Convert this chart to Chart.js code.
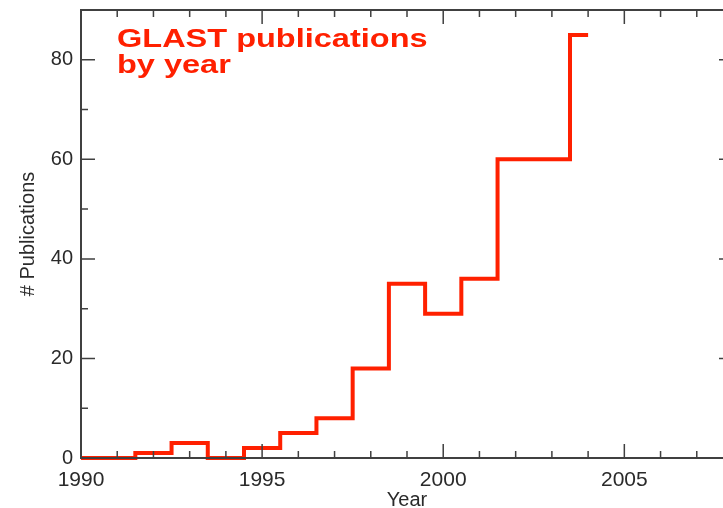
<!DOCTYPE html>
<html>
<head>
<meta charset="utf-8">
<script src="https://cdn.jsdelivr.net/npm/chart.js@4/dist/chart.umd.min.js"></script>
<style>
  html, body { margin: 0; padding: 0; background: #fff; overflow: hidden; }
  #wrap { width: 723px; height: 508px; overflow: hidden; }
</style>
</head>
<body>
<div id="wrap"><canvas id="pubChart" width="745" height="512"></canvas></div>
<script>
// GLAST publications per year (step histogram)
const years = [1990, 1991, 1992, 1993, 1994, 1995, 1996, 1997, 1998, 1999, 2000, 2001, 2002, 2003, 2004];
const pubs  = [0, 0, 1, 3, 0, 2, 5, 8, 18, 35, 29, 36, 60, 60, 85];
const xTickLabels = [1990, 1995, 2000, 2005];
const yTickLabels = [0, 20, 40, 60, 80];

const axisColor = "#404040";
const textColor = "#2a2a2a";
const lineRed = "#ff2000";

// inward tick marks + box on all four sides
const boxTicks = {
  id: "boxTicks",
  afterDatasetsDraw(chart) {
    const ctx = chart.ctx;
    const a = chart.chartArea;
    const xs = chart.scales.x, ys = chart.scales.y;
    ctx.save();
    ctx.strokeStyle = axisColor;
    ctx.lineWidth = 2;
    ctx.strokeRect(a.left, a.top, a.right - a.left, a.bottom - a.top);
    ctx.lineWidth = 1.5;
    ctx.beginPath();
    for (let v = xs.min; v <= xs.max; v++) {
      const px = xs.getPixelForValue(v);
      const len = v % 5 === 0 ? 14 : 7;
      ctx.moveTo(px, a.bottom); ctx.lineTo(px, a.bottom - len);
      ctx.moveTo(px, a.top); ctx.lineTo(px, a.top + len);
    }
    for (let v = ys.min; v <= ys.max; v += 10) {
      const py = ys.getPixelForValue(v);
      const len = v % 20 === 0 ? 14 : 7;
      ctx.moveTo(a.left, py); ctx.lineTo(a.left + len, py);
      ctx.moveTo(a.right, py); ctx.lineTo(a.right - len, py);
    }
    ctx.stroke();

    // in-plot caption (reference is stretched horizontally)
    ctx.fillStyle = lineRed;
    ctx.font = "bold 26px 'Liberation Sans', Arial, sans-serif";
    ctx.textBaseline = "alphabetic";
    ctx.textAlign = "left";
    ctx.translate(a.left + 36, 0);
    ctx.scale(1.25, 1);
    ctx.fillText("GLAST publications", 0, 47);
    ctx.fillText("by year", 0, 73);
    ctx.restore();
  }
};

new Chart(document.getElementById("pubChart"), {
  type: "line",
  data: {
    datasets: [{
      data: years.map((y, i) => ({ x: y, y: pubs[i] })),
      borderColor: lineRed,
      borderWidth: 4,
      stepped: "middle",
      pointRadius: 0,
      fill: false,
      clip: false
    }]
  },
  options: {
    responsive: false,
    animation: false,
    layout: { padding: { top: 10, right: 12, left: 16, bottom: 0 } },
    plugins: { legend: { display: false }, tooltip: { enabled: false } },
    scales: {
      x: {
        type: "linear",
        min: 1990,
        max: 2008,
        afterFit: (s) => { s.height = 54; s.paddingLeft = 0; s.paddingRight = 0; },
        afterBuildTicks: (s) => { s.ticks = xTickLabels.map(v => ({ value: v })); },
        grid: { display: false, drawTicks: false },
        border: { display: false },
        ticks: {
          color: textColor,
          font: { family: "'Liberation Sans', Arial, sans-serif", size: 21 },
          padding: 10,
          maxRotation: 0,
          callback: (v) => String(v)
        },
        title: {
          display: true,
          text: "Year",
          color: textColor,
          font: { family: "'Liberation Sans', Arial, sans-serif", size: 20 },
          padding: { top: 0, bottom: 0 }
        }
      },
      y: {
        min: 0,
        max: 90,
        afterFit: (s) => { s.width = 65; s.paddingTop = 0; s.paddingBottom = 0; },
        afterBuildTicks: (s) => { s.ticks = yTickLabels.map(v => ({ value: v })); },
        grid: { display: false, drawTicks: false },
        border: { display: false },
        ticks: {
          color: textColor,
          font: { family: "'Liberation Sans', Arial, sans-serif", size: 20 },
          padding: 8
        },
        title: {
          display: true,
          text: "# Publications",
          color: textColor,
          font: { family: "'Liberation Sans', Arial, sans-serif", size: 20 },
          padding: { top: 0, bottom: 0 }
        }
      }
    }
  },
  plugins: [boxTicks]
});
</script>
</body>
</html>
